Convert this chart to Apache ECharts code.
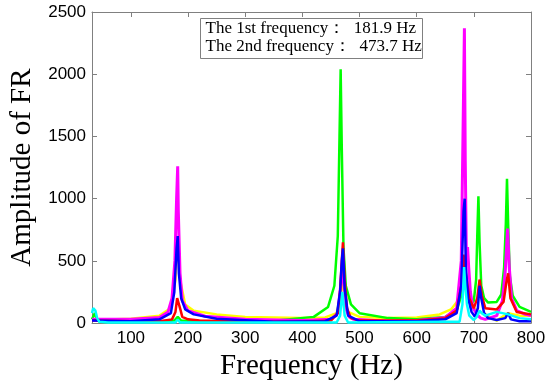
<!DOCTYPE html>
<html><head><meta charset="utf-8">
<script src="https://cdn.jsdelivr.net/npm/echarts@6/dist/echarts.min.js"></script>
<style>html,body{margin:0;padding:0;background:#fff}#c{width:550px;height:386px}</style>
</head><body><div id="c"></div>
<script>
// Frequency (Hz) / amplitude pairs for each curve
const yellowF = [32,60,100,150,170,178,182,186,195,210,250,300,400,440,460,466,470,474,480,500,550,600,640,660,672,678,682,685,690,700,710,720,730,740,760,780,800];
const yellowA = [25,28,35,60,120,350,700,350,150,100,70,50,40,45,80,200,350,200,90,50,40,45,70,110,180,300,500,300,200,120,90,70,40,20,80,60,60];
const greenF = [32,35,37,40,45,60,150,176,182,188,250,350,420,445,456,462,465,467,469,472,476,485,500,550,600,650,670,678,683,688,695,700,704,706,708,710,713,718,725,740,748,753,756,758,760,763,768,780,800];
const greenA = [30,60,80,40,10,8,10,20,50,20,10,18,50,130,300,700,1500,2040,1400,600,300,150,80,40,30,50,100,220,380,250,150,180,350,700,1020,650,300,200,165,170,230,450,800,1160,800,380,220,130,90];
const magentaF = [32,60,100,150,165,172,177,180,181.9,183,186,190,200,230,300,400,450,462,467,470,473,476,482,490,550,600,650,670,678,681,683.5,685,687,689,691,694,698,705,712,720,740,750,755,759,762,766,775,790,800];
const magentaA = [30,30,30,45,90,200,500,1000,1260,900,400,180,100,55,30,20,30,80,300,480,300,120,50,30,15,20,45,120,500,1500,2370,1300,500,610,450,250,130,70,40,30,60,180,420,760,450,200,100,70,60];
const redF = [32,100,150,172,178,181,183,186,190,200,220,300,400,450,462,466,469,471,474,478,485,500,600,650,670,678,682,686,692,700,706,710,714,720,740,752,757,760,764,775,800];
const redA = [20,15,15,30,90,200,210,120,50,30,20,10,10,20,80,250,500,650,350,120,40,20,20,40,100,300,550,400,200,120,200,350,220,120,110,170,330,400,200,90,70];
const blueF = [32,100,150,170,176,180,182,184,188,195,210,250,350,440,460,466,469,471,474,480,500,600,650,670,678,682,684,686,690,696,702,707,710,713,718,725,740,755,760,765,780,800];
const blueA = [20,15,30,80,250,600,700,400,200,110,70,35,10,15,60,250,500,600,280,60,15,15,30,80,300,900,1000,450,200,90,50,120,300,200,80,40,25,40,80,30,15,15];
const cyanF = [32,34,36,38,41,45,60,100,178,182,186,300,460,466,470,474,480,650,675,680,683,685,688,692,700,705,710,714,720,740,760,780,800];
const cyanA = [80,120,130,100,40,10,5,5,5,30,5,5,5,60,250,60,5,10,10,150,450,300,150,60,25,50,100,80,60,90,70,40,30];

const xTicks = [100,200,300,400,500,600,700,800];
const yTicks = [0,500,1000,1500,2000,2500];
const infoLines = ['The 1st frequency\uff1a  181.9 Hz','The 2nd frequency\uff1a  473.7 Hz'];

function pairs(f,a){return f.map((v,i)=>[v,a[i]]);}
const series = [
  ['#ffff00',yellowF,yellowA],
  ['#00ff00',greenF,greenA],
  ['#ff00ff',magentaF,magentaA],
  ['#ff0000',redF,redA],
  ['#0000ff',blueF,blueA],
  ['#00ffff',cyanF,cyanA]
].map(([c,f,a])=>({type:'line',data:pairs(f,a),symbol:'none',xAxisIndex:0,yAxisIndex:0,
  lineStyle:{color:c,width:c==='#ff00ff'?3:2.5},itemStyle:{color:c},animation:false}));

const axisCol = '#808080';
const chart = echarts.init(document.getElementById('c'),null,{renderer:'canvas'});
const xCommon = {type:'value',min:32,max:800,splitNumber:8,splitLine:{show:false},
  axisLine:{show:true,onZero:false,lineStyle:{color:axisCol,width:1}},
  axisTick:{show:true,inside:true,length:5,lineStyle:{color:axisCol},
    customValues:xTicks}};
const yCommon = {type:'value',min:0,max:2500,interval:500,splitLine:{show:false},
  axisLine:{show:true,onZero:false,lineStyle:{color:axisCol,width:1}},
  axisTick:{show:true,inside:true,length:5,lineStyle:{color:axisCol}}};
chart.setOption({
  animation:false,
  grid:{left:89,right:19,top:12,bottom:59,containLabel:false},
  xAxis:[
    Object.assign({},xCommon,{position:'bottom',
      name:'Frequency (Hz)',nameLocation:'middle',nameGap:26,
      nameTextStyle:{fontFamily:'Liberation Serif',fontSize:29,color:'#000'},
      axisLabel:{show:true,color:'#000',fontFamily:'Liberation Sans',fontSize:17,margin:7,
        customValues:xTicks,formatter:v=>(v%100===0?String(v):'')}}),
    Object.assign({},xCommon,{position:'top',axisLabel:{show:false}})
  ],
  yAxis:[
    Object.assign({},yCommon,{position:'left',
      name:'Amplitude of FR',nameLocation:'middle',nameGap:55,
      nameTextStyle:{fontFamily:'Liberation Serif',fontSize:29,color:'#000'},
      axisLabel:{show:true,color:'#000',fontFamily:'Liberation Sans',fontSize:17,margin:6,
        customValues:yTicks,formatter:v=>String(v)}}),
    Object.assign({},yCommon,{position:'right',axisLabel:{show:false}})
  ],
  graphic:[{type:'group',left:200,top:18,children:[
    {type:'rect',shape:{x:0,y:0,width:222,height:40},style:{fill:'#fff',stroke:axisCol,lineWidth:1}},
    {type:'text',left:5,top:2,style:{text:infoLines[0],font:'17px "Liberation Serif"',fill:'#000'}},
    {type:'text',left:5,top:20,style:{text:infoLines[1],font:'17px "Liberation Serif"',fill:'#000'}}
  ]}],
  series:series
});
</script></body></html>
